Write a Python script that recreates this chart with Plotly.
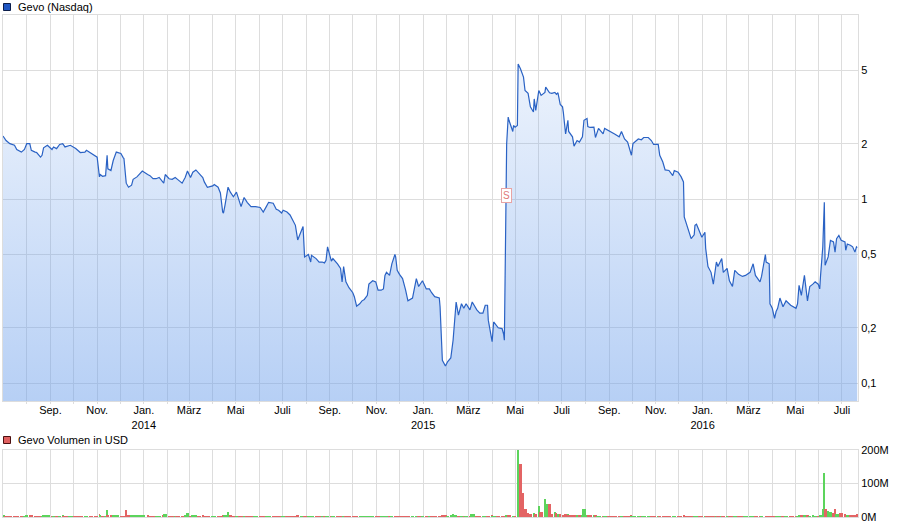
import math
import pandas as pd
import plotly.graph_objects as go

# ---------------- data ----------------
dates_2013 = ["2013-07-01","2013-07-05","2013-07-10","2013-07-16","2013-07-19","2013-07-25","2013-07-29",
              "2013-08-01","2013-08-05","2013-08-07","2013-08-12","2013-08-14","2013-08-19","2013-08-21","2013-08-23","2013-08-28",
              "2013-09-03","2013-09-05","2013-09-09","2013-09-13","2013-09-17","2013-09-20","2013-09-27",
              "2013-10-04","2013-10-10","2013-10-16","2013-10-18","2013-10-23","2013-10-25","2013-10-29","2013-10-31",
              "2013-11-01","2013-11-04","2013-11-05","2013-11-08","2013-11-12","2013-11-14","2013-11-15","2013-11-19","2013-11-22","2013-11-26",
              "2013-12-02","2013-12-05","2013-12-06","2013-12-09","2013-12-12","2013-12-16","2013-12-18","2013-12-23","2013-12-30"]
close_2013 = [2.20,2.08,2.00,1.96,1.86,1.80,1.86,
              2.00,2.00,1.84,1.80,1.79,1.69,1.73,1.90,1.96,
              1.86,1.92,1.88,1.98,2.00,1.92,1.96,
              1.88,1.79,1.80,1.84,1.79,1.77,1.73,1.71,
              1.69,1.32,1.36,1.33,1.34,1.73,1.46,1.43,1.62,1.80,
              1.77,1.68,1.66,1.22,1.16,1.19,1.28,1.32,1.42]
volume_2013 = [4,3,3,3,3,3,3,
               5,3,4,3,3,3,3,5,4,
               3,3,3,3,4,3,3,
               3,3,3,3,3,3,3,3,
               3,8,4,3,3,21,6,4,5,6,
               3,3,3,21,6,6,5,4,4]

dates_2014 = ["2014-01-06","2014-01-09","2014-01-13","2014-01-17","2014-01-21","2014-01-27","2014-01-29",
              "2014-02-03","2014-02-07","2014-02-11","2014-02-14","2014-02-20","2014-02-24","2014-02-27",
              "2014-03-03","2014-03-06","2014-03-10","2014-03-14","2014-03-19","2014-03-21","2014-03-25",
              "2014-04-01","2014-04-03","2014-04-08","2014-04-11","2014-04-14","2014-04-15","2014-04-17","2014-04-21","2014-04-24","2014-04-28",
              "2014-05-02","2014-05-05","2014-05-08","2014-05-12","2014-05-16","2014-05-21","2014-05-27",
              "2014-06-02","2014-06-06","2014-06-10","2014-06-13","2014-06-19","2014-06-23","2014-06-26","2014-06-30",
              "2014-07-02","2014-07-07","2014-07-11","2014-07-15","2014-07-18","2014-07-21","2014-07-25","2014-07-28","2014-07-30",
              "2014-08-04","2014-08-07","2014-08-08","2014-08-14","2014-08-18","2014-08-22","2014-08-25","2014-08-27","2014-08-29",
              "2014-09-03","2014-09-05","2014-09-11","2014-09-15","2014-09-17","2014-09-19","2014-09-22","2014-09-26",
              "2014-10-01","2014-10-03","2014-10-06","2014-10-10","2014-10-13","2014-10-16","2014-10-20","2014-10-22","2014-10-27","2014-10-31",
              "2014-11-03","2014-11-07","2014-11-10","2014-11-12","2014-11-14","2014-11-18","2014-11-21","2014-11-25","2014-11-26","2014-11-28",
              "2014-12-01","2014-12-05","2014-12-09","2014-12-12","2014-12-18","2014-12-23","2014-12-26","2014-12-31"]
close_2014 = [1.36,1.34,1.29,1.29,1.31,1.22,1.36,
              1.29,1.28,1.31,1.28,1.22,1.31,1.42,
              1.31,1.40,1.44,1.38,1.31,1.24,1.16,
              1.18,1.20,1.16,1.08,0.85,0.84,0.925,1.16,1.09,1.03,
              1.09,0.98,0.91,1.02,0.96,0.91,0.91,
              0.90,0.85,0.91,0.96,0.95,0.88,0.87,0.84,
              0.87,0.85,0.82,0.76,0.72,0.60,0.66,0.71,0.485,
              0.50,0.455,0.495,0.475,0.455,0.455,0.45,0.465,0.55,
              0.46,0.475,0.445,0.42,0.355,0.43,0.355,0.33,
              0.31,0.295,0.262,0.27,0.28,0.285,0.30,0.345,0.36,0.355,
              0.32,0.32,0.325,0.385,0.40,0.385,0.445,0.50,0.485,0.41,
              0.39,0.37,0.32,0.28,0.29,0.37,0.335,0.36]
volume_2014 = [4,3,3,3,3,5,9,
               3,3,3,3,3,4,13,
               3,5,5,3,4,3,3,
               3,3,3,3,6,5,4,15,4,3,
               3,3,3,3,3,3,3,
               2,2,2,2,2,2,2,2,
               2,2,2,2,2,4,3,2,3,
               2,2,2,2,2,2,2,2,3,
               2,2,2,2,3,2,2,2,
               2,2,2,2,2,2,2,2,2,2,
               2,2,2,2,2,2,2,3,2,2,
               2,2,2,2,2,2,2,2]

dates_2015 = ["2015-01-05","2015-01-09","2015-01-12","2015-01-16","2015-01-22","2015-01-23","2015-01-26","2015-01-30",
              "2015-02-02","2015-02-06","2015-02-09","2015-02-11","2015-02-13","2015-02-16","2015-02-20","2015-02-23","2015-02-26",
              "2015-03-03","2015-03-06","2015-03-12","2015-03-16","2015-03-20","2015-03-23","2015-03-26","2015-03-27",
              "2015-04-01","2015-04-03","2015-04-09","2015-04-14","2015-04-16","2015-04-17",
              "2015-04-20","2015-04-22","2015-04-23","2015-04-28","2015-04-29","2015-05-01","2015-05-04",
              "2015-05-05","2015-05-08","2015-05-12","2015-05-14","2015-05-18","2015-05-21","2015-05-25","2015-05-26","2015-05-28",
              "2015-06-01","2015-06-04","2015-06-09","2015-06-10","2015-06-15","2015-06-18","2015-06-22","2015-06-24","2015-06-26","2015-06-29",
              "2015-07-02","2015-07-03","2015-07-06","2015-07-09","2015-07-10","2015-07-15","2015-07-17","2015-07-21","2015-07-24","2015-07-28","2015-07-30",
              "2015-08-03","2015-08-04","2015-08-07","2015-08-12","2015-08-14","2015-08-18","2015-08-24","2015-08-26","2015-08-31",
              "2015-09-04","2015-09-08","2015-09-14","2015-09-17","2015-09-21","2015-09-25","2015-09-30",
              "2015-10-02","2015-10-09","2015-10-13","2015-10-16","2015-10-22","2015-10-26","2015-10-29",
              "2015-11-04","2015-11-06","2015-11-10","2015-11-13","2015-11-18","2015-11-23","2015-11-25","2015-11-30",
              "2015-12-04","2015-12-07","2015-12-08","2015-12-11","2015-12-14","2015-12-17","2015-12-21","2015-12-22","2015-12-24","2015-12-28","2015-12-31"]
close_2015 = [0.325,0.325,0.31,0.295,0.29,0.26,0.133,0.124,
              0.131,0.137,0.171,0.229,0.276,0.234,0.27,0.255,0.27,
              0.25,0.276,0.25,0.24,0.24,0.265,0.265,0.22,
              0.168,0.215,0.20,0.198,0.185,0.171,
              2.0,2.79,2.68,2.33,2.51,2.46,2.51,
              5.42,5.1,4.6,3.89,3.75,3.17,2.97,3.5,3.03,
              3.89,3.66,3.8,4.06,3.78,3.75,3.8,3.71,3.78,3.27,
              3.17,2.97,2.26,2.68,2.33,2.18,1.94,2.08,2.04,2.18,2.68,
              2.74,2.48,2.45,2.46,2.16,2.42,2.26,2.42,2.36,
              2.33,2.26,2.18,2.33,2.12,2.04,1.73,
              2.0,2.12,2.10,2.16,2.16,2.08,1.98,
              1.98,1.73,1.59,1.44,1.43,1.34,1.43,1.40,
              1.32,1.24,0.80,0.735,0.676,0.61,0.64,0.72,0.73,0.66,0.62]
volume_2015 = [2,2,2,2,2,3,6,4,
               3,4,9,6,5,3,3,3,3,
               3,10,3,2,2,3,2,3,
               4,2,2,2,2,2,
               4,5,4,3,3,3,3,
               200,158,72,24,11,8,8,12,8,
               33,15,54,39,39,8,15,11,8,8,
               6,6,8,8,5,4,4,5,4,5,24,
               6,5,4,4,4,3,3,3,3,
               3,3,3,3,3,3,4,
               3,3,3,3,3,3,3,
               2,3,3,2,2,2,2,2,
               2,3,4,3,3,3,3,3,2,2,2]

dates_2016 = ["2016-01-04","2016-01-05","2016-01-08","2016-01-12","2016-01-15","2016-01-19","2016-01-21","2016-01-26","2016-01-28",
              "2016-02-02","2016-02-05","2016-02-09","2016-02-12","2016-02-17","2016-02-22","2016-02-26",
              "2016-03-03","2016-03-07","2016-03-10","2016-03-11","2016-03-16","2016-03-18","2016-03-23","2016-03-24","2016-03-28","2016-03-29",
              "2016-04-01","2016-04-04","2016-04-06","2016-04-08","2016-04-11","2016-04-15","2016-04-19","2016-04-25","2016-04-28",
              "2016-05-02","2016-05-04","2016-05-06","2016-05-09","2016-05-13","2016-05-17","2016-05-20","2016-05-24","2016-05-27","2016-05-31",
              "2016-06-02","2016-06-03","2016-06-06","2016-06-08","2016-06-09","2016-06-13","2016-06-16","2016-06-20","2016-06-22","2016-06-24","2016-06-27","2016-06-30",
              "2016-07-05","2016-07-06","2016-07-08","2016-07-12","2016-07-15","2016-07-18","2016-07-20","2016-07-21"]
close_2016 = [0.66,0.54,0.43,0.40,0.345,0.455,0.43,0.475,0.40,
              0.42,0.36,0.335,0.41,0.39,0.38,0.385,
              0.40,0.445,0.385,0.38,0.355,0.38,0.50,0.455,0.445,0.27,
              0.255,0.225,0.245,0.255,0.29,0.26,0.28,0.265,0.26,
              0.255,0.27,0.34,0.30,0.385,0.28,0.335,0.345,0.355,0.345,
              0.325,0.38,0.55,0.96,0.437,0.485,0.597,0.585,0.515,0.61,0.635,0.597,
              0.585,0.527,0.57,0.561,0.55,0.515,0.55,0.545]
volume_2016 = [3,3,3,3,3,3,2,2,2,
               2,2,2,2,2,2,2,
               2,2,2,2,2,2,3,2,2,3,
               3,2,2,2,3,2,2,2,2,
               2,3,5,4,5,4,3,4,3,3,
               3,5,24,132,24,18,15,12,24,9,8,11,
               10,7,7,7,7,7,7,8]

split_date = "2015-04-20"
split_level = 1.05

price_ticks = [0.1, 0.2, 0.5, 1, 2, 5]
price_tick_labels = ["0,1", "0,2", "0,5", "1", "2", "5"]
volume_ticks = [0, 100e6, 200e6]
volume_tick_labels = ["0M", "100M", "200M"]

month_ticks = ["2013-08-01","2013-09-01","2013-10-01","2013-11-01","2013-12-01",
               "2014-01-01","2014-02-01","2014-03-01","2014-04-01","2014-05-01","2014-06-01",
               "2014-07-01","2014-08-01","2014-09-01","2014-10-01","2014-11-01","2014-12-01",
               "2015-01-01","2015-02-01","2015-03-01","2015-04-01","2015-05-01","2015-06-01",
               "2015-07-01","2015-08-01","2015-09-01","2015-10-01","2015-11-01","2015-12-01",
               "2016-01-01","2016-02-01","2016-03-01","2016-04-01","2016-05-01","2016-06-01","2016-07-01"]
month_labels = ["", "Sep.", "", "Nov.", "",
                "Jan.<br>2014", "", "März", "", "Mai", "",
                "Juli", "", "Sep.", "", "Nov.", "",
                "Jan.<br>2015", "", "März", "", "Mai", "",
                "Juli", "", "Sep.", "", "Nov.", "",
                "Jan.<br>2016", "", "März", "", "Mai", "", "Juli"]

x_range = ["2013-07-01", "2016-07-22"]
price_range = [0.08, 10]
volume_range = [0, 200e6]

# ---------------- assemble ----------------
dates = dates_2013 + dates_2014 + dates_2015 + dates_2016
close = close_2013 + close_2014 + close_2015 + close_2016
volume_m = volume_2013 + volume_2014 + volume_2015 + volume_2016
assert len(dates) == len(close) == len(volume_m), (len(dates), len(close), len(volume_m))
volume = [v * 1e6 for v in volume_m]

dt = pd.to_datetime(dates)
UP, DOWN = "#5cd45c", "#e36464"
colors = [UP] + [UP if close[i] >= close[i - 1] else DOWN for i in range(1, len(close))]
gaps = [(dt[i + 1] - dt[i]).total_seconds() * 1000 for i in range(len(dt) - 1)]
widths = gaps + [gaps[-1]]

FONT = "Liberation Sans, Arial, sans-serif"
GRID = "#dddddd"

# pixel layout of a 900x526 canvas
W, H = 900, 526
L, R = 3, 858
main_top, main_bot = 15, 401
vol_top, vol_bot = 450, 517

def py(p):
    return 1 - p / H

def px(p):
    return (p - L) / (R - L)

fig = go.Figure()

fig.add_trace(go.Scatter(
    x=dates, y=close, mode="lines",
    line=dict(color="#2a62c4", width=1.2),
    fill="tozeroy",
    fillgradient=dict(type="vertical",
                      colorscale=[[0, "rgba(110,160,235,0.50)"], [1, "rgba(110,160,235,0.12)"]],
                      start=price_range[0], stop=6),
    xaxis="x", yaxis="y", hoverinfo="x+y", showlegend=False,
))

fig.add_trace(go.Bar(
    x=dates, y=volume, width=widths,
    marker=dict(color=colors, line=dict(width=0)),
    xaxis="x2", yaxis="y2", showlegend=False,
))

axis_common = dict(showgrid=True, gridcolor=GRID, gridwidth=1, zeroline=False,
                   showline=True, mirror=True, linecolor=GRID, linewidth=1)

fig.update_layout(
    width=W, height=H,
    margin=dict(l=L, r=W - R, t=0, b=0, autoexpand=False),
    paper_bgcolor="white", plot_bgcolor="white",
    font=dict(family=FONT, size=11, color="#000000"),
    bargap=0,
    xaxis=dict(domain=[0, 1], anchor="y", type="date", range=x_range,
               tickmode="array", tickvals=month_ticks, ticktext=month_labels,
               ticks="outside", ticklen=2, tickcolor=GRID, ticklabelstandoff=-3,
               tickfont=dict(family=FONT, size=11, color="#000"), **axis_common),
    yaxis=dict(domain=[py(main_bot), py(main_top)], anchor="x", type="log",
               range=[math.log10(price_range[0]), math.log10(price_range[1])],
               side="right", tickmode="array", tickvals=price_ticks, ticktext=price_tick_labels,
               ticks="", tickfont=dict(family=FONT, size=11, color="#000"), **axis_common),
    xaxis2=dict(domain=[0, 1], anchor="y2", type="date", matches="x",
                tickmode="array", tickvals=month_ticks, showticklabels=False, ticks="",
                **axis_common),
    yaxis2=dict(domain=[py(vol_bot), py(vol_top)], anchor="x2", range=volume_range,
                side="right", tickmode="array", tickvals=volume_ticks, ticktext=volume_tick_labels,
                ticks="", tickfont=dict(family=FONT, size=11, color="#000"), **axis_common),
)

# panel titles with coloured legend squares
fig.add_annotation(xref="paper", yref="paper", x=px(16), y=py(7), xanchor="left", yanchor="middle",
                   text="Gevo (Nasdaq)", showarrow=False, font=dict(family=FONT, size=11, color="#000"))
fig.add_annotation(xref="paper", yref="paper", x=px(16), y=py(440), xanchor="left", yanchor="middle",
                   text="Gevo Volumen in USD", showarrow=False, font=dict(family=FONT, size=11, color="#000"))
fig.add_shape(type="rect", xref="paper", yref="paper", x0=px(3.5), x1=px(10.5), y0=py(10.5), y1=py(3.5),
              fillcolor="#1f56c2", line=dict(color="#0b1d4a", width=1))
fig.add_shape(type="rect", xref="paper", yref="paper", x0=px(3.5), x1=px(10.5), y0=py(443.5), y1=py(436.5),
              fillcolor="#e06060", line=dict(color="#4a1010", width=1))

# split marker
fig.add_annotation(x=split_date, y=math.log10(split_level), xref="x", yref="y",
                   text="S", showarrow=False, bgcolor="white",
                   bordercolor="#e8a4a4", borderwidth=1, borderpad=1,
                   font=dict(family=FONT, size=10, color="#e07878"))

fig.write_html("out.html", config={"displayModeBar": False},
               post_script="document.body.style.margin='0px';document.body.style.overflow='hidden';")
